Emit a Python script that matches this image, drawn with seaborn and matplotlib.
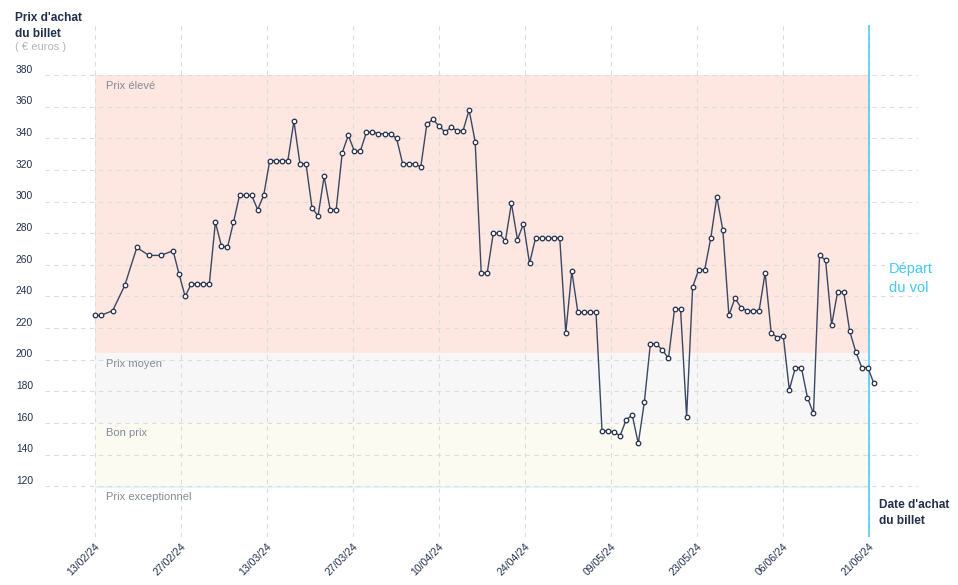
import matplotlib

matplotlib.use("Agg")
import matplotlib.pyplot as plt  # noqa: E402
import matplotlib.transforms as mtransforms  # noqa: E402
import numpy as np  # noqa: E402
import pandas as pd  # noqa: E402
import seaborn as sns  # noqa: E402

sns.set_theme(style="white")
plt.rcParams["font.family"] = ["Liberation Sans", "DejaVu Sans"]

# jours depuis le 13/02/24 (un point tous les 2 jours au début, puis quotidien)
jours = [0, 1, 3, 5, 7, 9, 11, 13] + list(range(14, 130))
prix = [
    228, 228, 231, 247, 271, 266, 266, 269, 254, 240,
    248, 248, 248, 248, 287, 272, 271, 287, 304, 304,
    304, 295, 304, 326, 326, 326, 326, 351, 324, 324,
    296, 291, 316, 295, 295, 331, 342, 332, 332, 344,
    344, 343, 343, 343, 340, 324, 324, 324, 322, 349,
    352, 348, 344, 347, 345, 345, 358, 338, 255, 255,
    280, 280, 275, 299, 276, 286, 261, 277, 277, 277,
    277, 277, 217, 256, 230, 230, 230, 230, 155, 155,
    154, 152, 162, 165, 147, 173, 210, 210, 206, 201,
    232, 232, 164, 246, 257, 257, 277, 303, 282, 228,
    239, 233, 231, 231, 231, 255, 217, 214, 215, 181,
    195, 195, 176, 166, 266, 263, 222, 243, 243, 218,
    205, 195, 195, 185,
]
dates_ticks = ["13/02/24", "27/02/24", "13/03/24", "27/03/24", "10/04/24",
               "24/04/24", "09/05/24", "23/05/24", "06/06/24", "21/06/24"]
y_ticks = list(range(120, 400, 20))

bandes_nom = ["Prix élevé", "Prix moyen", "Bon prix", "Prix exceptionnel"]
bandes_haut = [380, 204, 160, 120]
bandes_bas = [204, 160, 120, 119]
bandes_couleur = ["#fee7e1", "#f7f7f7", "#fbfbf2", "#dff7fc"]

NAVY = "#22304d"
CYAN = "#45c8f2"

df = pd.DataFrame({"jour": jours, "prix": prix})

fig = plt.figure(figsize=(9.58, 5.85), dpi=100)
ax = fig.add_axes([45 / 958, 1 - 537 / 585, 873 / 958, 512 / 585])

tick_pos = np.linspace(0, 128.2, len(dates_ticks))
x_fin = tick_pos[-1]

for nom, haut, bas, coul in zip(bandes_nom, bandes_haut, bandes_bas, bandes_couleur):
    ax.fill_between([0, x_fin], bas, haut, color=coul, lw=0, zorder=0)
    ax.annotate(nom, xy=(0, haut), xytext=(8, -4), textcoords="offset points",
                ha="left", va="top", fontsize=8, color="#858a96", zorder=3)

sns.lineplot(data=df, x="jour", y="prix", ax=ax, color="#3a4864", lw=1,
             marker="o", markersize=3.3, markerfacecolor="white",
             markeredgecolor=NAVY, markeredgewidth=0.9, zorder=4)

ax.axvline(x_fin, color=CYAN, lw=1.1, zorder=3)

ax.set_xlim(-8.2, 136.3)
ax.set_ylim(87.8, 411.8)
ax.set_xticks(tick_pos)
ax.set_xticklabels(dates_ticks, rotation=45, ha="right", rotation_mode="anchor",
                   fontsize=7.6, color=NAVY)
decal = mtransforms.ScaledTranslation(-3 / 100, -3 / 100, fig.dpi_scale_trans)
for lab in ax.get_xticklabels():
    lab.set_transform(lab.get_transform() + decal)
ax.set_yticks(y_ticks)
ax.set_yticklabels([])
ax.tick_params(length=0, pad=3)
ax.grid(True, color="#dcdcdc", lw=0.8, ls=(0, (4, 4)), zorder=1)
ax.set_axisbelow(True)
for s in ax.spines.values():
    s.set_visible(False)
ax.set_xlabel("")
ax.set_ylabel("")

trans = mtransforms.blended_transform_factory(fig.transFigure, ax.transData)
for v in y_ticks:
    ax.text(16 / 958, v + 1.5, str(v), transform=trans, ha="left", va="baseline",
            fontsize=7.4, color=NAVY)

fig.text(15 / 958, 1 - 12 / 585, "Prix d'achat\ndu billet", ha="left", va="top",
         fontsize=8.6, fontweight="bold", color=NAVY, linespacing=1.45)
fig.text(15 / 958, 1 - 42 / 585, "( € euros )", ha="left", va="top",
         fontsize=8, color="#b5b5b5")
fig.text(879 / 958, 1 - 499 / 585, "Date d'achat\ndu billet", ha="left", va="top",
         fontsize=8.6, fontweight="bold", color=NAVY, linespacing=1.45)
fig.text(889 / 958, 1 - 262 / 585, "Départ\ndu vol", ha="left", va="top",
         fontsize=10.5, color=CYAN, linespacing=1.5)

fig.savefig("out.png", dpi=100)
